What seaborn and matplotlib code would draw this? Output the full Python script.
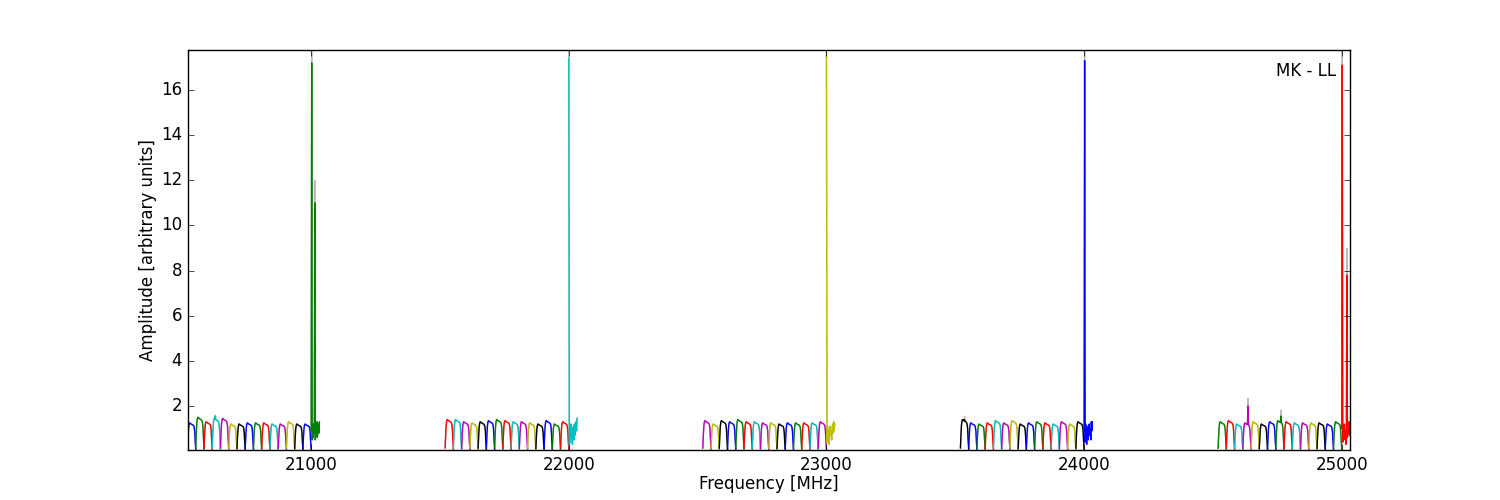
import matplotlib
matplotlib.use("Agg")
import matplotlib.pyplot as plt
import seaborn as sns
import numpy as np
import pandas as pd

plt.style.use("classic")

# ---- data ----
group_starts = [20520, 21520, 22520, 23520, 24520]   # MHz, 16 sub-bands of 32 MHz each
subband_width = 32
channel_offsets = [0, 2, 4, 6, 8, 10, 12, 14, 16, 18, 20, 22, 24, 26, 28, 30, 32]
# common bandpass shape of a sub-band (relative amplitude per channel)
bandpass_shape = [0.10, 0.50, 0.82, 0.95, 1.0, 0.99, 0.97, 0.96, 0.95, 0.94,
                  0.93, 0.92, 0.90, 0.85, 0.70, 0.35, 0.06]
# peak level of the 15 clean sub-bands of each group
levels_g1 = [1.25, 1.5, 1.3, 1.45, 1.45, 1.2, 1.2, 1.25, 1.25, 1.25, 1.2, 1.2, 1.3, 1.2, 1.2]
levels_g2 = [1.4, 1.4, 1.3, 1.25, 1.3, 1.35, 1.4, 1.35, 1.3, 1.3, 1.25, 1.2, 1.35, 1.2, 1.3]
levels_g3 = [1.35, 1.2, 1.35, 1.3, 1.4, 1.3, 1.3, 1.25, 1.25, 1.2, 1.25, 1.25, 1.25, 1.25, 1.3]
levels_g4 = [1.4, 1.25, 1.2, 1.25, 1.35, 1.25, 1.35, 1.2, 1.25, 1.3, 1.25, 1.2, 1.3, 1.2, 1.3]
levels_g5 = [1.3, 1.35, 1.2, 1.25, 1.3, 1.2, 1.3, 1.35, 1.3, 1.25, 1.25, 1.25, 1.25, 1.2, 1.3]
# last (tone-carrying) sub-band of each group, per channel
tone_g1 = [0.9, 17.2, 0.5, 1.1, 0.6, 1.2, 0.8, 11.0, 0.5, 1.0, 0.7, 1.3, 0.6, 0.9, 1.2, 0.8, 1.3]
tone_g2 = [17.4, 0.2, 0.9, 0.4, 1.2, 0.6, 1.0, 0.3, 0.8, 1.1, 0.5, 1.2, 0.7, 0.9, 1.3, 0.9, 1.45]
tone_g3 = [17.65, 0.4, 1.1, 0.6, 0.9, 0.3, 0.8, 1.1, 0.7, 0.9, 0.5, 1.0, 1.2, 0.8, 1.3, 0.9, 1.2]
tone_g4 = [0.9, 17.3, 0.4, 1.2, 0.6, 0.3, 0.9, 1.1, 0.5, 0.8, 1.2, 0.7, 1.0, 0.5, 1.3, 0.9, 1.3]
tone_g5 = [1.0, 17.1, 0.4, 1.1, 0.5, 1.2, 0.7, 0.9, 0.3, 1.0, 7.8, 0.6, 1.2, 0.8, 1.3, 0.7, 1.1]
# narrow features: (group, sub-band, channel index, amplitude, grey amplitude)
features = [
    (0, 3, 6, 1.55, 1.6),
    (3, 0, 8, 1.4, 1.55),
    (4, 3, 10, 2.0, 2.35),
    (4, 7, 10, 1.55, 1.8),
    (0, 15, 1, 17.2, 17.77),
    (0, 15, 7, 11.0, 12.0),
    (1, 15, 0, 17.4, 17.77),
    (2, 15, 0, 17.65, 17.77),
    (3, 15, 1, 17.3, 17.77),
    (4, 15, 1, 17.1, 17.77),
    (4, 15, 10, 7.8, 9.0),
]
color_cycle = ["b", "g", "r", "c", "m", "y", "k"]
label_text = "MK - LL"
x_ticks = [21000, 22000, 23000, 24000, 25000]
y_ticks = [2, 4, 6, 8, 10, 12, 14, 16]

# ---- build table ----
levels = [levels_g1, levels_g2, levels_g3, levels_g4, levels_g5]
tones = [tone_g1, tone_g2, tone_g3, tone_g4, tone_g5]
rows = []
sb_id = 0
feat = {(g, s, c): (a, ga) for g, s, c, a, ga in features}
for g, start in enumerate(group_starts):
    for s in range(16):
        if s < 15:
            vals = [levels[g][s] * v for v in bandpass_shape]
        else:
            vals = list(tones[g])
        for c, off in enumerate(channel_offsets):
            amp = vals[c]
            grey = amp
            if (g, s, c) in feat:
                amp, grey = feat[(g, s, c)]
            rows.append(dict(freq=start + s * subband_width + off, amp=amp,
                             grey=grey, sb=sb_id))
        sb_id += 1
df = pd.DataFrame(rows)
palette = [color_cycle[i % len(color_cycle)] for i in range(sb_id)]

fig, ax = plt.subplots(figsize=(15, 5), dpi=100)
fig.patch.set_facecolor("white")
ax.set_facecolor("white")

sns.lineplot(data=df, x="freq", y="grey", units="sb", estimator=None,
             color="#bbbbbb", lw=1.0, sort=False, ax=ax, legend=False)
sns.lineplot(data=df, x="freq", y="amp", hue="sb", palette=palette,
             estimator=None, lw=1.0, sort=False, ax=ax, legend=False)

ax.set_xlim(20520, 25032)
ax.set_ylim(0.05, 17.77)
ax.set_xticks(x_ticks)
ax.set_yticks(y_ticks)
ax.set_xlabel("Frequency [MHz]", fontsize=12, labelpad=1)
ax.set_ylabel("Amplitude [arbitrary units]", fontsize=12, labelpad=3)
ax.tick_params(labelsize=12)
ax.text(0.988, 0.97, label_text, transform=ax.transAxes, ha="right", va="top",
        fontsize=12)

fig.savefig("out.png", dpi=100, facecolor="white")
